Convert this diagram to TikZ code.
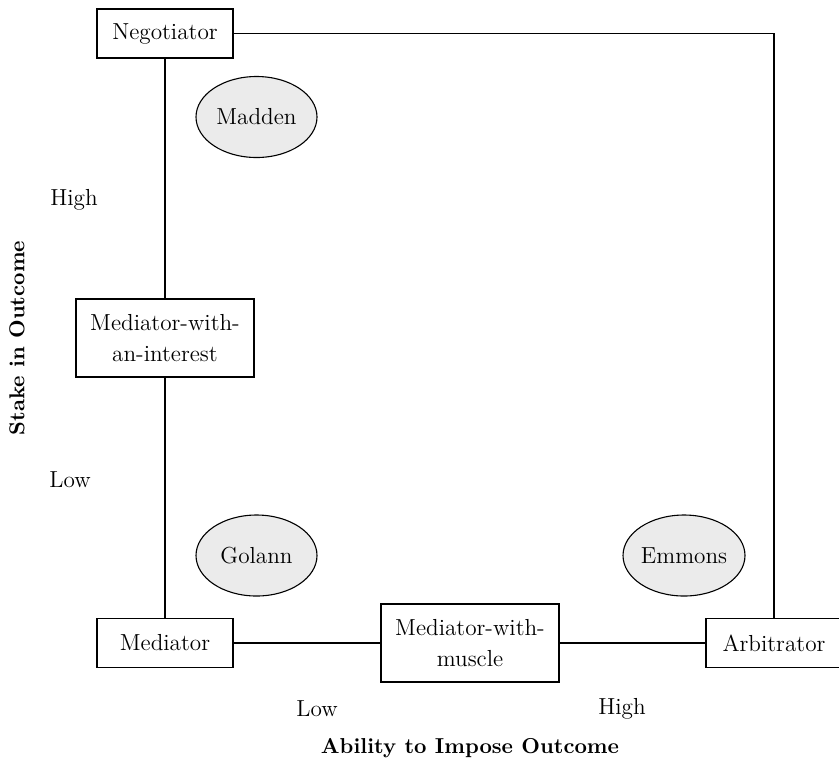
\documentclass[tikz,border=0pt]{standalone}
\usetikzlibrary{shapes.geometric}

\tikzset{
	role/.style={rectangle, draw, fill=white, align=center, inner sep=2pt, minimum width=68pt, minimum height=24.5pt, font=\fontsize{11.6}{15.5}\selectfont},
	rolewide/.style={role, minimum width=89pt, minimum height=39pt},
	person/.style={ellipse, draw, fill=black!8, inner sep=0pt, minimum width=60.5pt, minimum height=40.5pt, font=\fontsize{11.6}{13}\selectfont},
	level/.style={font=\fontsize{11.6}{13}\selectfont},
	axistitle/.style={font=\bfseries\fontsize{10.8}{13}\selectfont}
}

\begin{document}
\begin{tikzpicture}[x=0.5pt, y=-0.5pt, line width=0.55pt]
		\useasboundingbox (0,0) rectangle (839,762);

		% roles
		\node (neg) [role] at (165,33.5) {Negotiator};
		\node (interest) [rolewide] at (165,338) {Mediator-with-\\an-interest};
		\node (med) [role] at (165,643) {Mediator};
		\node (muscle) [rolewide] at (470,643) {Mediator-with-\\muscle};
		\node (arb) [role] at (774,643) {Arbitrator};

		\draw (neg) -- (interest);
		\draw (interest) -- (med);
		\draw (med) -- (muscle);
		\draw (muscle) -- (arb);
		\draw (neg.east) -| (arb.north);

		% authors
		\node (madden) [person] at (256.5,117) {Madden};
		\node (golann) [person] at (256.5,555.5) {Golann};
		\node (emmons) [person] at (684,555.5) {Emmons};

		% axes
		\node (stakehigh) [level] at (74,200) {High};
		\node (stakelow) [level] at (70,480) {Low};
		\node (stake) [axistitle, rotate=90] at (17,338) {Stake in Outcome};

		\node (abilitylow) [level] at (317,709) {Low};
		\node (abilityhigh) [level] at (622,709) {High};
		\node (ability) [axistitle] at (470,748) {Ability to Impose Outcome};

	\end{tikzpicture}
\end{document}
